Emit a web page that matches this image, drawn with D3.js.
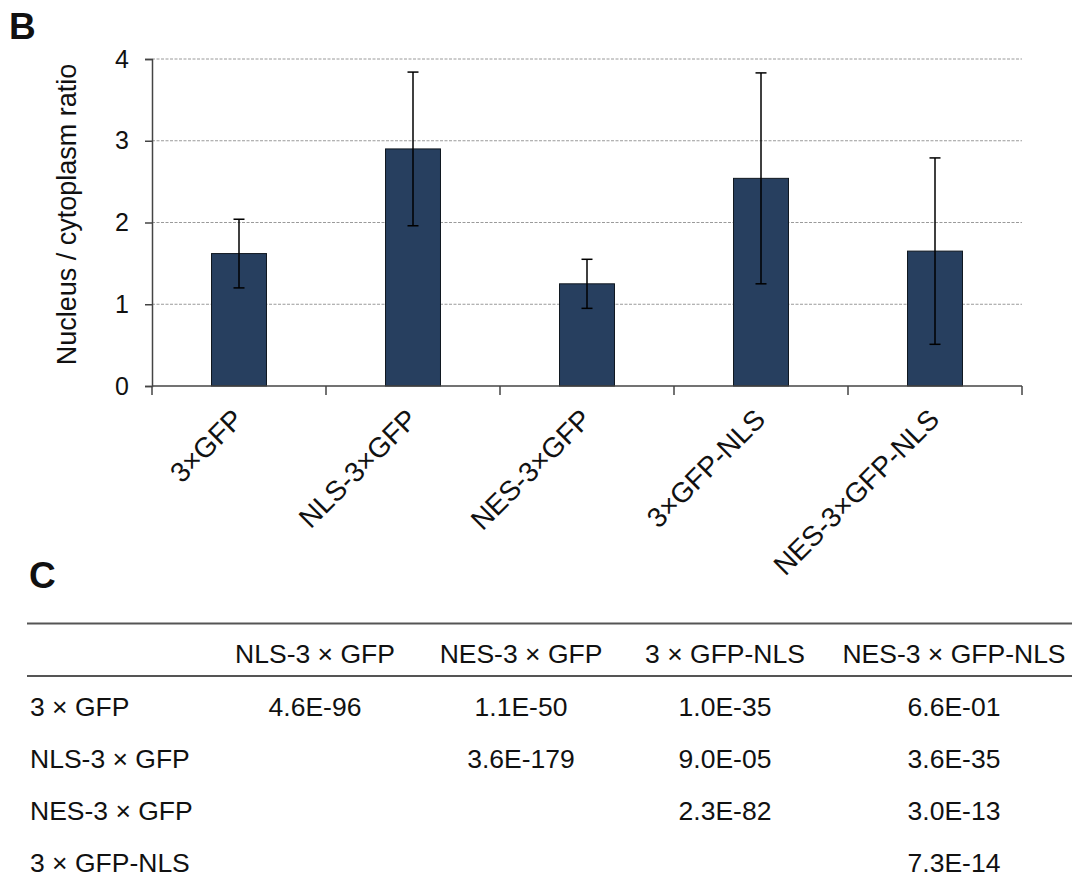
<!DOCTYPE html>
<html>
<head>
<meta charset="utf-8">
<script src="https://cdn.jsdelivr.net/npm/d3@7"></script>
<style>
  html, body { margin: 0; padding: 0; background: #fff; }
  svg { display: block; font-family: "Liberation Sans", Arial, sans-serif; }
</style>
</head>
<body>
<svg id="chart" width="1072" height="878"></svg>
<script>
// ---- data ----
const categories = ["3×GFP", "NLS-3×GFP", "NES-3×GFP", "3×GFP-NLS", "NES-3×GFP-NLS"];
const means = [1.62, 2.90, 1.25, 2.54, 1.65];
const errors = [0.42, 0.94, 0.30, 1.29, 1.14];
const yTicks = [0, 1, 2, 3, 4];

const tableColumns = ["NLS-3 × GFP", "NES-3 × GFP", "3 × GFP-NLS", "NES-3 × GFP-NLS"];
const tableRows = ["3 × GFP", "NLS-3 × GFP", "NES-3 × GFP", "3 × GFP-NLS"];
const pValues = [
  ["4.6E-96", "1.1E-50", "1.0E-35", "6.6E-01"],
  ["", "3.6E-179", "9.0E-05", "3.6E-35"],
  ["", "", "2.3E-82", "3.0E-13"],
  ["", "", "", "7.3E-14"]
];

// ---- layout ----
const svg = d3.select("#chart");
const plot = { left: 152, right: 1022, top: 59, bottom: 386 };

const x = d3.scaleBand().domain(categories).range([plot.left, plot.right])
  .paddingInner(0.684).paddingOuter(0.342);
const y = d3.scaleLinear().domain([0, 4]).range([plot.bottom, plot.top]);

// panel letters
svg.append("text").attr("x", 9).attr("y", 39)
  .attr("font-size", 37).attr("font-weight", "bold").attr("fill", "#111").text("B");
svg.append("text").attr("x", 29).attr("y", 588)
  .attr("font-size", 37).attr("font-weight", "bold").attr("fill", "#111").text("C");

// gridlines
svg.append("g").selectAll("line").data(yTicks.filter(d => d > 0)).join("line")
  .attr("x1", plot.left).attr("x2", plot.right)
  .attr("y1", d => y(d)).attr("y2", d => y(d))
  .attr("stroke", "#9a9a9a").attr("stroke-width", 1).attr("stroke-dasharray", "3,1.5");

// bars
svg.append("g").selectAll("rect").data(categories).join("rect")
  .attr("x", d => x(d)).attr("width", x.bandwidth())
  .attr("y", (d, i) => y(means[i])).attr("height", (d, i) => y(0) - y(means[i]))
  .attr("fill", "#273f5f").attr("stroke", "#101820").attr("stroke-width", 1);

// error bars
const eg = svg.append("g").attr("stroke", "#000").attr("stroke-width", 1.5);
categories.forEach((c, i) => {
  const cx = x(c) + x.bandwidth() / 2;
  const hi = y(means[i] + errors[i]), lo = y(means[i] - errors[i]);
  eg.append("line").attr("x1", cx).attr("x2", cx).attr("y1", hi).attr("y2", lo);
  eg.append("line").attr("x1", cx - 5.5).attr("x2", cx + 5.5).attr("y1", hi).attr("y2", hi);
  eg.append("line").attr("x1", cx - 5.5).attr("x2", cx + 5.5).attr("y1", lo).attr("y2", lo);
});

// y axis
const yAxis = svg.append("g").attr("transform", `translate(${plot.left},0)`)
  .call(d3.axisLeft(y).tickValues(yTicks).tickSize(7).tickPadding(16).tickFormat(d3.format("d")));
yAxis.select(".domain").attr("stroke", "#444").attr("stroke-width", 1.5);
yAxis.selectAll(".tick line").attr("stroke", "#444").attr("stroke-width", 1.5);
yAxis.selectAll(".tick text").attr("font-size", 25).attr("fill", "#111")
  .attr("font-family", "'Liberation Sans', Arial, sans-serif");

// x axis: line with boundary ticks
const xg = svg.append("g");
xg.append("line").attr("x1", plot.left).attr("x2", plot.right)
  .attr("y1", plot.bottom).attr("y2", plot.bottom).attr("stroke", "#444").attr("stroke-width", 1.5);
const bounds = categories.map(c => x(c) - (x.step() - x.bandwidth()) / 2).concat([plot.right]);
xg.selectAll("line.tk").data(bounds).join("line").attr("class", "tk")
  .attr("x1", d => d).attr("x2", d => d)
  .attr("y1", plot.bottom).attr("y2", plot.bottom + 9)
  .attr("stroke", "#444").attr("stroke-width", 1.5);

xg.selectAll("text.xl").data(categories).join("text").attr("class", "xl")
  .attr("transform", d => `translate(${x(d) + x.bandwidth() / 2 + 6},${plot.bottom + 35}) rotate(-45)`)
  .attr("text-anchor", "end").attr("font-size", 28).attr("fill", "#111").text(d => d);

// y label
svg.append("text")
  .attr("transform", `translate(76,${(plot.top + plot.bottom) / 2 - 8}) rotate(-90)`)
  .attr("text-anchor", "middle").attr("font-size", 27).attr("fill", "#111")
  .text("Nucleus / cytoplasm ratio");

// ---- table ----
const col = d3.scaleOrdinal().domain(tableColumns).range([315, 521, 725, 954]);
const row = d3.scalePoint().domain(tableRows).range([706, 862]);
const tg = svg.append("g").attr("font-size", 26.5).attr("fill", "#111");

tg.append("line").attr("x1", 27).attr("x2", 1072).attr("y1", 623.5).attr("y2", 623.5)
  .attr("stroke", "#555").attr("stroke-width", 2);
tg.append("line").attr("x1", 27).attr("x2", 1072).attr("y1", 676).attr("y2", 676)
  .attr("stroke", "#555").attr("stroke-width", 2);

tg.selectAll("text.hd").data(tableColumns).join("text").attr("class", "hd")
  .attr("x", d => col(d)).attr("y", 653).attr("dy", "0.36em")
  .attr("text-anchor", "middle").text(d => d);

tg.selectAll("text.rl").data(tableRows).join("text").attr("class", "rl")
  .attr("x", 30).attr("y", d => row(d)).attr("dy", "0.36em").text(d => d);

pValues.forEach((vals, ri) => {
  tg.selectAll(null).data(vals.map((v, ci) => ({ v, c: tableColumns[ci] })).filter(o => o.v))
    .join("text")
    .attr("x", o => col(o.c)).attr("y", row(tableRows[ri])).attr("dy", "0.36em")
    .attr("text-anchor", "middle").text(o => o.v);
});
</script>
</body>
</html>
